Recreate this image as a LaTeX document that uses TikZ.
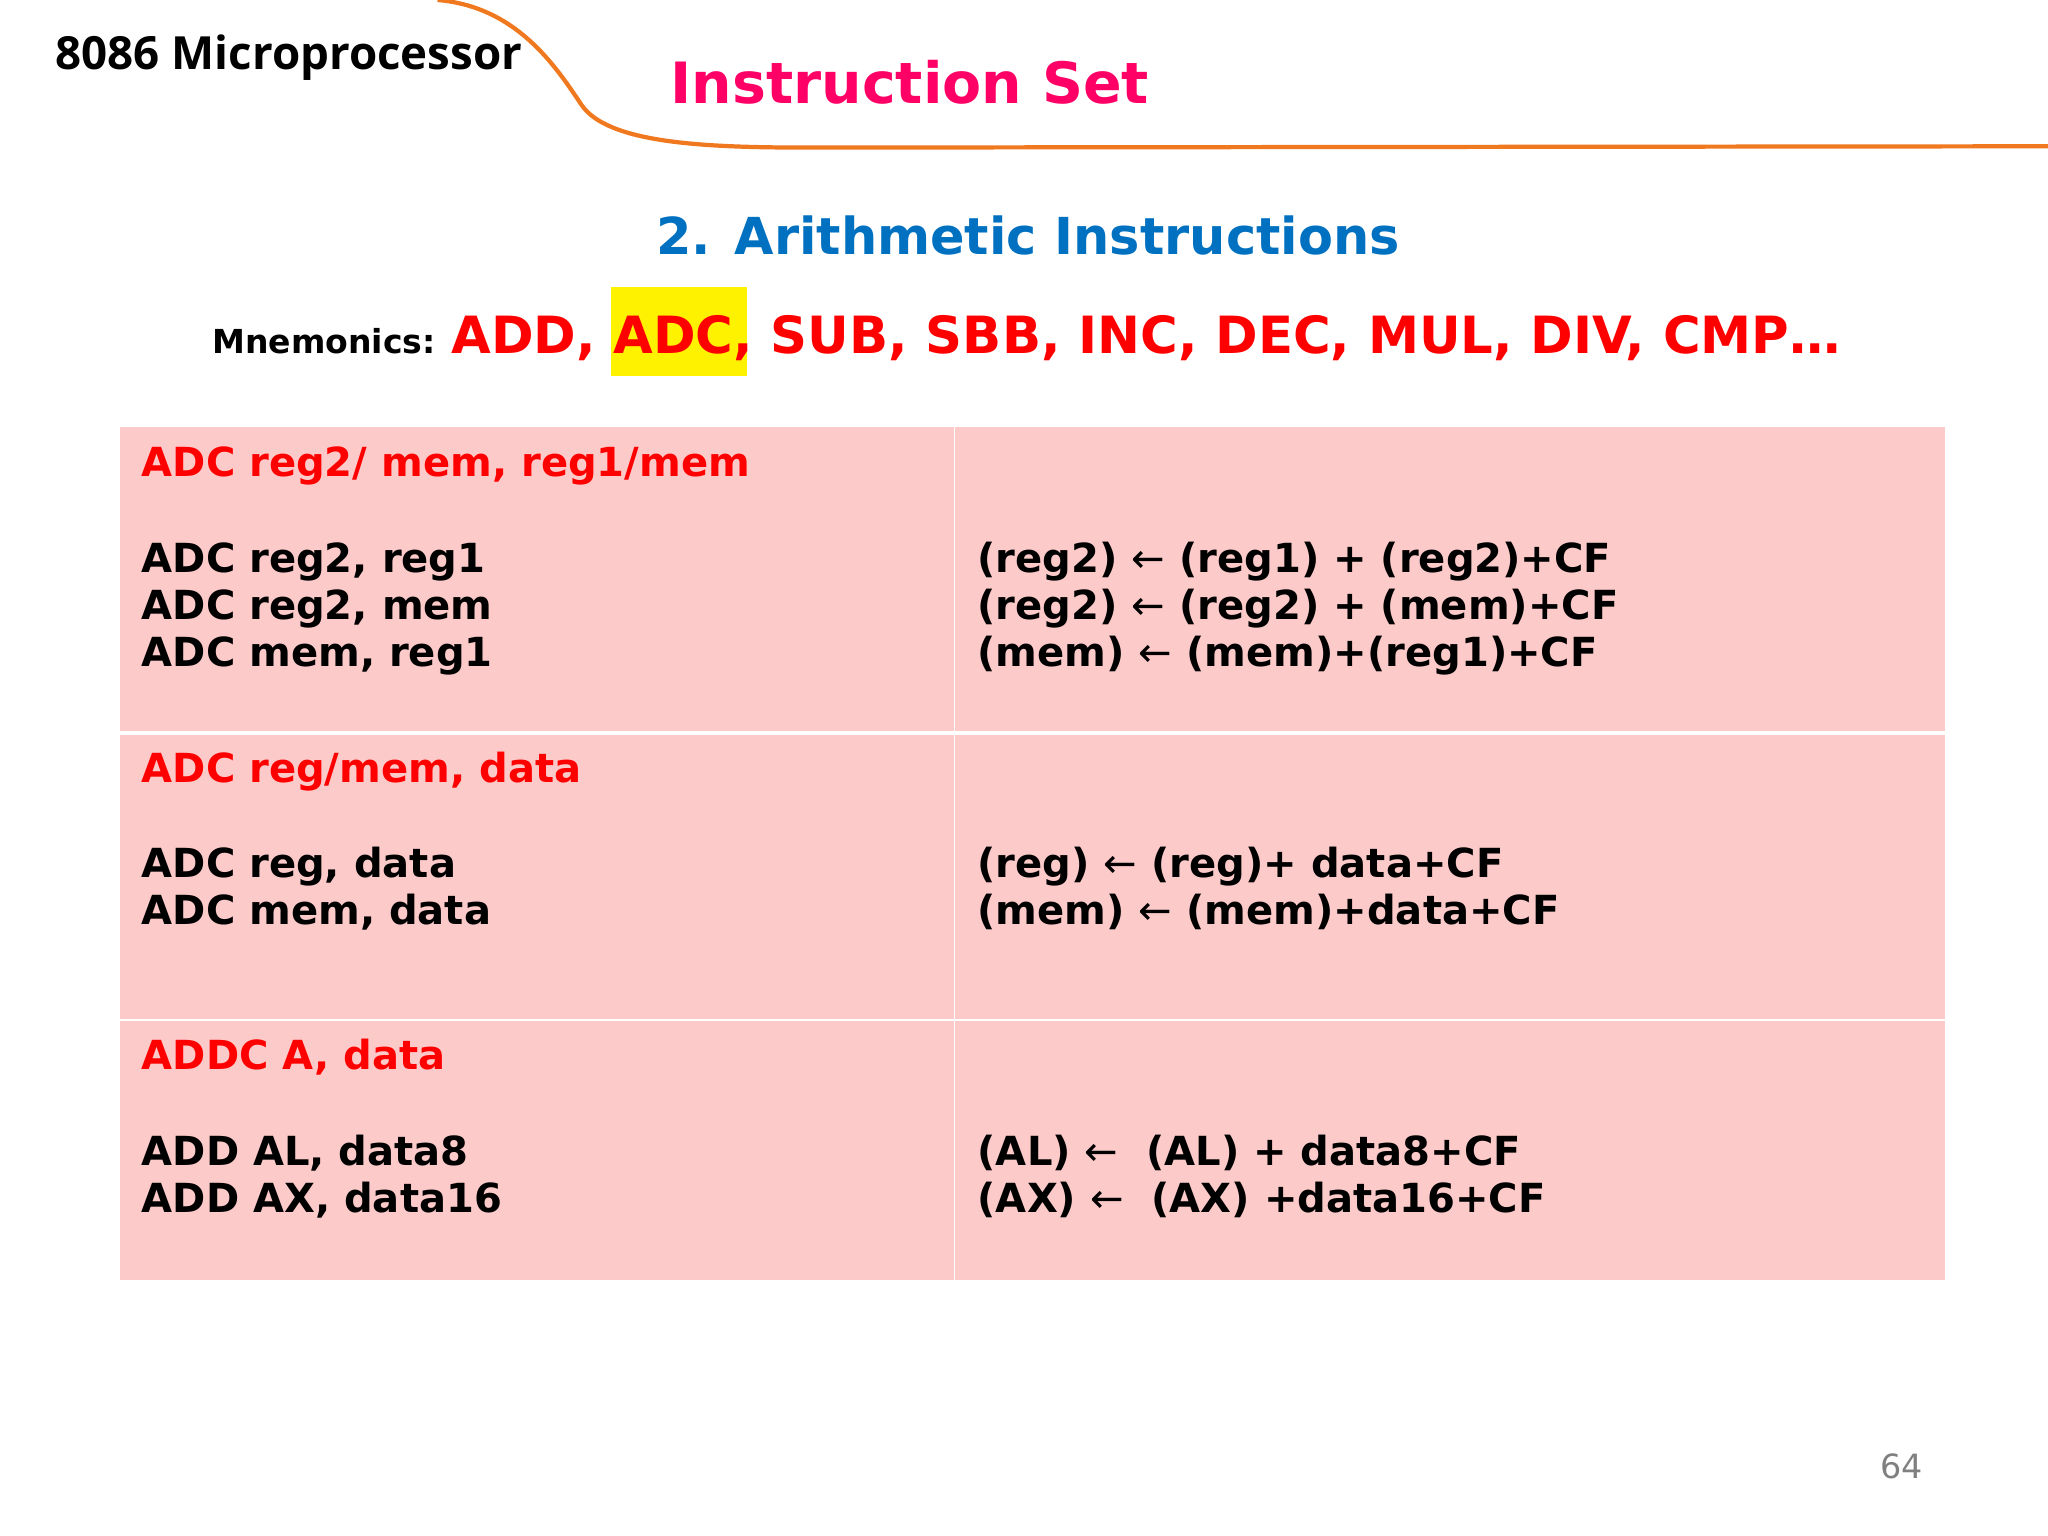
\documentclass[tikz,border=0pt]{standalone}
\usepackage{fontspec}
\setmainfont{DejaVu Sans}
\newfontfamily\osans{Open Sans}
\definecolor{curv}{RGB}{240,120,30}
\definecolor{cell}{RGB}{253,202,202}
\definecolor{ttl}{RGB}{255,0,102}
\definecolor{sub}{RGB}{0,112,192}
\tikzstyle{hd}=[anchor=base west,inner sep=0,text=red,font=\fontsize{11.4}{13.3}\selectfont\bfseries]
\tikzstyle{ln}=[anchor=base west,inner sep=0,font=\fontsize{11.4}{13.3}\selectfont\bfseries]
\def\px{0.013061cm}
\newcommand\la{{\mdseries ←}}
\begin{document}
\begin{tikzpicture}[x=\px,y=-\px]
	\useasboundingbox (0,0) rectangle (1568,1176);
	% header swoosh
	\draw[curv,line width=1.2pt] (335,0) .. controls (395,5) and (425,50) .. (445,80)
		.. controls (465,110) and (540,113) .. (620,113) -- (1568,112);
	\node[anchor=base west,inner sep=0,font=\fontsize{13}{15}\osans\bfseries] (brand) at (42,53) {8086 Microprocessor};
	\node[anchor=base west,inner sep=0,text=ttl,font=\fontsize{16.2}{19}\selectfont\bfseries] (title) at (513,79) {Instruction Set};
	\node[anchor=base,inner sep=0,text=sub,font=\fontsize{14.5}{17}\selectfont\bfseries] (sub) at (787,195) {2. Arithmetic Instructions};
	% mnemonics
	\fill[yellow] (468,220) rectangle (572,288);
	\node[anchor=base west,inner sep=0,font=\fontsize{9.4}{11}\selectfont\bfseries] (mn) at (162,271) {Mnemonics:};
	\node[anchor=base west,inner sep=0,text=red,font=\fontsize{14.6}{17}\selectfont\bfseries] (lst) at (345,271) {ADD, ADC, SUB, SBB, INC, DEC, MUL, DIV, CMP…};
	% table
	\fill[cell] (92,327) rectangle (1489,980);
	\draw[white,line width=1.1pt] (92,561) -- (1489,561);
	\draw[white,line width=0.6pt] (92,781) -- (1489,781);
	\draw[white,line width=0.4pt] (731,327) -- (731,980);
	\node[hd] (h1) at (108,365) {ADC reg2/ mem, reg1/mem};
	\node[hd] (h2) at (108,599) {ADC reg/mem, data};
	\node[hd] (h3) at (108,819) {ADDC A, data};
	\foreach \a/\b [count=\i] in {{ADC reg2, reg1}/{(reg2) \la{} (reg1) + (reg2)+CF},
			{ADC reg2, mem}/{(reg2) \la{} (reg2) + (mem)+CF},
			{ADC mem, reg1}/{(mem) \la{} (mem)+(reg1)+CF}} {
		\node[ln] (p\i) at (108,{438+36*(\i-1)}) {\a};
		\node[ln] (q\i) at (748,{438+36*(\i-1)}) {\b};
	}
	\foreach \a/\b [count=\i] in {{ADC reg, data}/{(reg) \la{} (reg)+ data+CF},
			{ADC mem, data}/{(mem) \la{} (mem)+data+CF}} {
		\node[ln] (r\i) at (108,{672+36*(\i-1)}) {\a};
		\node[ln] (s\i) at (748,{672+36*(\i-1)}) {\b};
	}
	\foreach \a/\b [count=\i] in {{ADD AL, data8}/{(AL) \la\ \ (AL) + data8+CF},
			{ADD AX, data16}/{(AX) \la\ \ (AX) +data16+CF}} {
		\node[ln] (t\i) at (108,{892+36*(\i-1)}) {\a};
		\node[ln] (u\i) at (748,{892+36*(\i-1)}) {\b};
	}
	\node[anchor=base east,inner sep=0,text=gray,font=\fontsize{9.5}{11}\selectfont] (pg) at (1473,1132) {64};
\end{tikzpicture}
\end{document}
